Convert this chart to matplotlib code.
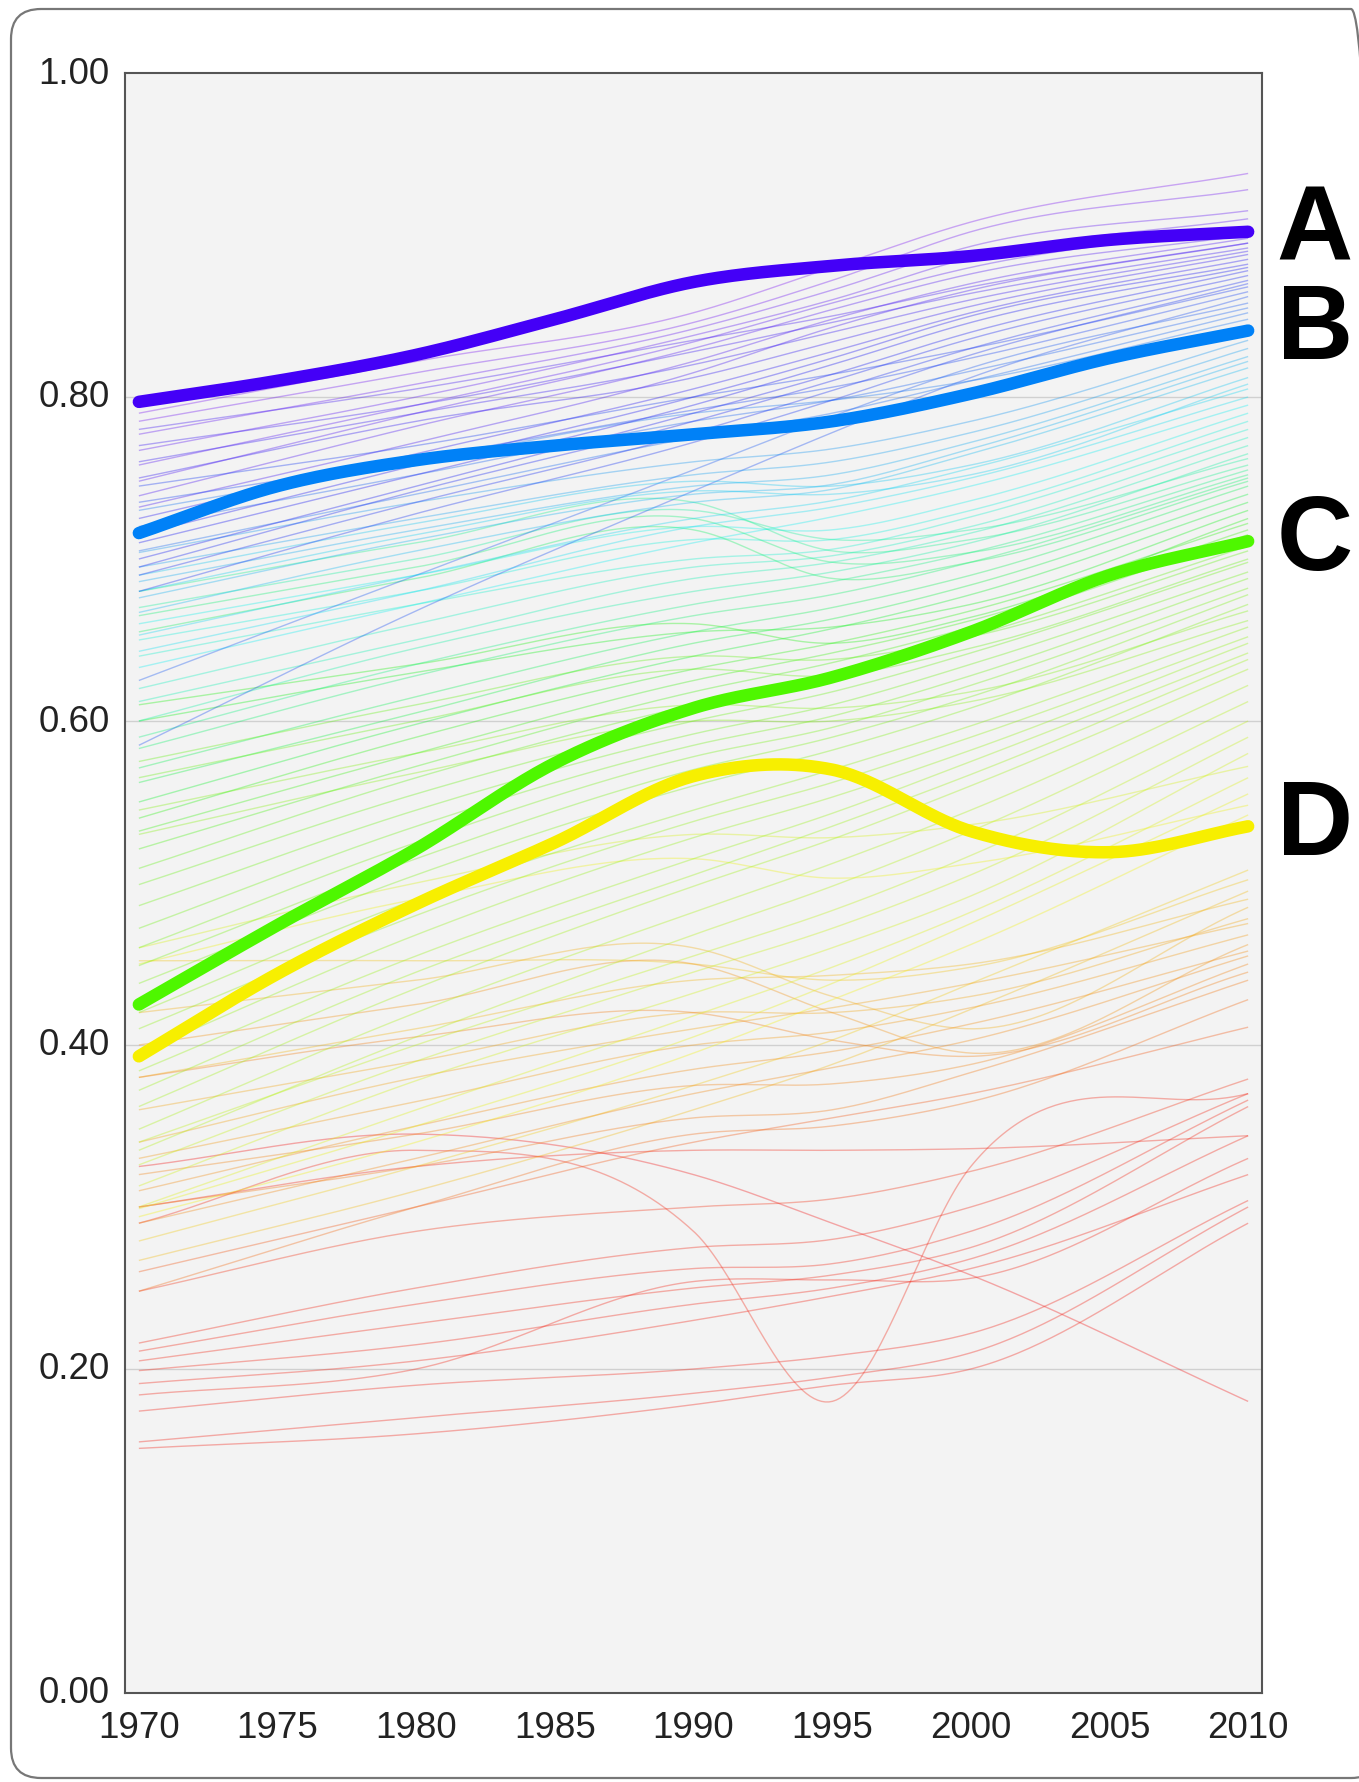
import matplotlib
matplotlib.use("Agg")
import matplotlib.pyplot as plt
import matplotlib.transforms as mtransforms
from matplotlib.patches import FancyBboxPatch
from matplotlib.colors import hsv_to_rgb
import numpy as np

plt.rcParams['font.family'] = ['Liberation Sans', 'DejaVu Sans']

# highlighted series (every 5 years)
years_hl = [1970, 1975, 1980, 1985, 1990, 1995, 2000, 2005, 2010]
series_a = [0.797, 0.810, 0.826, 0.848, 0.871, 0.881, 0.887, 0.897, 0.902]
series_b = [0.716, 0.745, 0.761, 0.770, 0.777, 0.785, 0.802, 0.824, 0.841]
series_c = [0.425, 0.474, 0.521, 0.574, 0.608, 0.627, 0.655, 0.690, 0.711]
series_d = [0.393, 0.444, 0.487, 0.525, 0.566, 0.570, 0.532, 0.519, 0.535]
hl_labels = ["A", "B", "C", "D"]

# background series
years_thin = [1970, 1980, 1990, 1995, 2000, 2010]

violet_lines = [
    [0.790, 0.822, 0.852, 0.880, 0.908, 0.938],
    [0.785, 0.815, 0.846, 0.872, 0.902, 0.928],
    [0.777, 0.808, 0.842, 0.866, 0.893, 0.915],
    [0.767, 0.800, 0.838, 0.860, 0.886, 0.910],
    [0.758, 0.795, 0.834, 0.858, 0.880, 0.905],
    [0.748, 0.790, 0.830, 0.854, 0.876, 0.900],
    [0.739, 0.782, 0.822, 0.848, 0.870, 0.898],
    [0.732, 0.772, 0.815, 0.843, 0.866, 0.895],
    [0.780, 0.805, 0.835, 0.850, 0.868, 0.895],
    [0.770, 0.795, 0.828, 0.846, 0.864, 0.892],
    [0.760, 0.790, 0.820, 0.840, 0.860, 0.890],
    [0.750, 0.785, 0.812, 0.834, 0.856, 0.888],
    [0.725, 0.765, 0.805, 0.828, 0.852, 0.885],
    [0.715, 0.758, 0.800, 0.824, 0.850, 0.882],
    [0.710, 0.752, 0.795, 0.820, 0.846, 0.880],
    [0.700, 0.745, 0.790, 0.814, 0.840, 0.878],
    [0.695, 0.742, 0.785, 0.810, 0.836, 0.875],
    [0.690, 0.735, 0.778, 0.804, 0.830, 0.872],
    [0.680, 0.728, 0.772, 0.798, 0.826, 0.870],
    [0.745, 0.770, 0.800, 0.814, 0.830, 0.868],
    [0.735, 0.762, 0.792, 0.806, 0.824, 0.865],
]

blue_lines = [
    [0.585, 0.668, 0.742, 0.778, 0.812, 0.862],
    [0.625, 0.690, 0.755, 0.788, 0.818, 0.858],
    [0.720, 0.752, 0.785, 0.798, 0.816, 0.855],
    [0.705, 0.740, 0.775, 0.790, 0.810, 0.852],
    [0.730, 0.760, 0.790, 0.798, 0.810, 0.848],
    [0.704, 0.735, 0.760, 0.768, 0.785, 0.835],
    [0.695, 0.725, 0.752, 0.760, 0.778, 0.830],
    [0.686, 0.718, 0.745, 0.752, 0.772, 0.825],
    [0.676, 0.712, 0.740, 0.746, 0.768, 0.822],
    [0.667, 0.705, 0.735, 0.743, 0.765, 0.818],
    [0.690, 0.722, 0.748, 0.745, 0.758, 0.812],
    [0.680, 0.715, 0.742, 0.740, 0.752, 0.808],
    [0.653, 0.690, 0.725, 0.736, 0.756, 0.805],
    [0.643, 0.680, 0.720, 0.732, 0.750, 0.800],
]

teal_lines = [
    [0.633, 0.672, 0.710, 0.726, 0.745, 0.795],
    [0.660, 0.690, 0.720, 0.718, 0.736, 0.790],
    [0.650, 0.680, 0.712, 0.712, 0.730, 0.785],
    [0.640, 0.672, 0.700, 0.706, 0.726, 0.780],
    [0.620, 0.660, 0.695, 0.702, 0.720, 0.775],
    [0.612, 0.650, 0.688, 0.698, 0.716, 0.770],
    [0.600, 0.645, 0.680, 0.692, 0.710, 0.765],
    [0.670, 0.700, 0.730, 0.712, 0.718, 0.762],
    [0.680, 0.710, 0.735, 0.705, 0.712, 0.758],
    [0.665, 0.695, 0.725, 0.698, 0.704, 0.752],
    [0.655, 0.688, 0.718, 0.688, 0.698, 0.748],
    [0.590, 0.635, 0.672, 0.686, 0.704, 0.755],
    [0.583, 0.628, 0.665, 0.678, 0.698, 0.750],
]

green_lines = [
    [0.571, 0.615, 0.655, 0.670, 0.690, 0.745],
    [0.562, 0.605, 0.648, 0.663, 0.684, 0.740],
    [0.550, 0.598, 0.640, 0.657, 0.678, 0.735],
    [0.600, 0.630, 0.655, 0.658, 0.672, 0.730],
    [0.610, 0.635, 0.660, 0.648, 0.664, 0.725],
    [0.540, 0.590, 0.632, 0.648, 0.668, 0.722],
    [0.532, 0.580, 0.625, 0.642, 0.662, 0.718],
    [0.521, 0.572, 0.618, 0.636, 0.658, 0.715],
    [0.509, 0.565, 0.610, 0.628, 0.652, 0.708],
    [0.575, 0.610, 0.640, 0.638, 0.652, 0.705],
    [0.565, 0.600, 0.632, 0.628, 0.645, 0.700],
]

lime_lines = [
    [0.499, 0.555, 0.600, 0.618, 0.642, 0.698],
    [0.486, 0.545, 0.592, 0.610, 0.635, 0.692],
    [0.472, 0.535, 0.585, 0.603, 0.628, 0.688],
    [0.460, 0.525, 0.578, 0.596, 0.622, 0.682],
    [0.449, 0.515, 0.570, 0.590, 0.615, 0.678],
    [0.438, 0.505, 0.560, 0.582, 0.608, 0.672],
    [0.545, 0.580, 0.610, 0.608, 0.618, 0.668],
    [0.530, 0.568, 0.600, 0.600, 0.612, 0.662],
    [0.420, 0.490, 0.545, 0.570, 0.597, 0.658],
    [0.410, 0.480, 0.538, 0.562, 0.590, 0.652],
    [0.395, 0.468, 0.528, 0.553, 0.582, 0.648],
    [0.384, 0.455, 0.515, 0.543, 0.575, 0.642],
    [0.372, 0.445, 0.505, 0.535, 0.567, 0.638],
    [0.362, 0.435, 0.498, 0.527, 0.560, 0.632],
]

yellow_lines = [
    [0.348, 0.420, 0.482, 0.512, 0.545, 0.622],
    [0.335, 0.405, 0.468, 0.498, 0.532, 0.612],
    [0.340, 0.400, 0.455, 0.483, 0.517, 0.600],
    [0.326, 0.390, 0.445, 0.472, 0.505, 0.590],
    [0.313, 0.378, 0.432, 0.460, 0.492, 0.580],
    [0.460, 0.500, 0.530, 0.528, 0.536, 0.572],
    [0.300, 0.360, 0.418, 0.448, 0.482, 0.565],
    [0.299, 0.350, 0.405, 0.438, 0.475, 0.555],
    [0.450, 0.490, 0.515, 0.503, 0.512, 0.548],
    [0.294, 0.340, 0.395, 0.428, 0.462, 0.542],
]

orange_lines = [
    [0.279, 0.325, 0.375, 0.403, 0.438, 0.508],
    [0.452, 0.452, 0.450, 0.440, 0.448, 0.502],
    [0.267, 0.310, 0.360, 0.388, 0.422, 0.495],
    [0.380, 0.410, 0.440, 0.443, 0.450, 0.490],
    [0.420, 0.440, 0.460, 0.430, 0.410, 0.485],
    [0.360, 0.390, 0.420, 0.420, 0.430, 0.478],
    [0.340, 0.380, 0.410, 0.423, 0.438, 0.475],
    [0.330, 0.365, 0.400, 0.408, 0.423, 0.468],
    [0.400, 0.425, 0.450, 0.420, 0.395, 0.462],
    [0.310, 0.350, 0.385, 0.396, 0.413, 0.458],
    [0.290, 0.330, 0.370, 0.386, 0.403, 0.455],
    [0.320, 0.345, 0.375, 0.376, 0.388, 0.450],
    [0.380, 0.405, 0.420, 0.403, 0.393, 0.445],
    [0.300, 0.325, 0.355, 0.360, 0.383, 0.440],
    [0.248, 0.300, 0.345, 0.350, 0.365, 0.428],
]

red_lines = [
    [0.325, 0.345, 0.320, 0.290, 0.258, 0.180],
    [0.290, 0.335, 0.285, 0.180, 0.325, 0.370],
    [0.248, 0.285, 0.300, 0.305, 0.322, 0.379],
    [0.216, 0.250, 0.275, 0.280, 0.300, 0.370],
    [0.211, 0.240, 0.262, 0.265, 0.285, 0.366],
    [0.205, 0.228, 0.250, 0.258, 0.275, 0.362],
    [0.199, 0.215, 0.240, 0.250, 0.268, 0.344],
    [0.191, 0.205, 0.230, 0.245, 0.262, 0.320],
    [0.184, 0.200, 0.254, 0.255, 0.256, 0.330],
    [0.174, 0.190, 0.200, 0.208, 0.222, 0.304],
    [0.155, 0.170, 0.185, 0.195, 0.210, 0.300],
    [0.151, 0.160, 0.178, 0.190, 0.200, 0.290],
    [0.300, 0.325, 0.335, 0.335, 0.336, 0.344],
    [0.260, 0.300, 0.340, 0.355, 0.370, 0.411],
]


def smooth(xs, ys, n=300):
    # cubic Hermite curve through the points, for drawing only
    xs = np.asarray(xs, float)
    ys = np.asarray(ys, float)
    m = np.gradient(ys, xs)
    xx = np.linspace(xs[0], xs[-1], n)
    i = np.clip(np.searchsorted(xs, xx, side='right') - 1, 0, len(xs) - 2)
    h = xs[i + 1] - xs[i]
    t = (xx - xs[i]) / h
    h00 = 2 * t**3 - 3 * t**2 + 1
    h10 = t**3 - 2 * t**2 + t
    h01 = -2 * t**3 + 3 * t**2
    h11 = t**3 - t**2
    yy = h00 * ys[i] + h10 * h * m[i] + h01 * ys[i + 1] + h11 * h * m[i + 1]
    return xx, yy


# colour scale: last value -> hue
hue_stops_v = [0.18, 0.37, 0.45, 0.535, 0.60, 0.71, 0.76, 0.80, 0.84, 0.90, 0.94]
hue_stops_h = [0, 5, 30, 58, 75, 100, 155, 185, 208, 256, 268]


def colour_for(v, s=0.9, b=0.95):
    h = np.interp(v, hue_stops_v, hue_stops_h) / 360.0
    return hsv_to_rgb([h, s, b])


fig = plt.figure(figsize=(13.59, 17.83), dpi=100)

# rounded frame around the whole chart
frame = FancyBboxPatch((11, 4), 1370, 1769, boxstyle="round,pad=0,rounding_size=30",
                       transform=None, facecolor='none', edgecolor='#777777',
                       linewidth=1.6, zorder=0)
fig.patches.append(frame)

ax = fig.add_axes([125 / 1359, 1 - 1694 / 1783, (1262 - 125) / 1359, (1694 - 74) / 1783])
ax.set_facecolor('#f3f3f3')
ax.set_xlim(1969.5, 2010.5)
ax.set_ylim(0, 1)

for y in [0.2, 0.4, 0.6, 0.8]:
    ax.axhline(y, color='#d0d0d0', lw=1.0, zorder=1)

all_thin = (red_lines + orange_lines + yellow_lines + lime_lines + green_lines
            + teal_lines + blue_lines + violet_lines)
for vals in all_thin:
    xx, yy = smooth(years_thin, vals)
    ax.plot(xx, yy, color=colour_for(vals[-1]), alpha=0.36, lw=1.0,
            solid_capstyle='butt', zorder=2)

for vals in [series_d, series_c, series_b, series_a]:
    xx, yy = smooth(years_hl, vals)
    ax.plot(xx, yy, color=colour_for(vals[-1], s=1.0, b=0.97), lw=9,
            solid_capstyle='round', zorder=5)

# letters at the right of the highlighted lines
trans = mtransforms.blended_transform_factory(ax.transAxes, ax.transData)
for lab, vals in zip(hl_labels, [series_a, series_b, series_c, series_d]):
    ax.text(1.013, vals[-1], lab, transform=trans, fontsize=76, fontweight='bold',
            color='black', ha='left', va='center', clip_on=False)

ax.set_xticks(range(1970, 2011, 5))
ax.set_yticks([0, 0.2, 0.4, 0.6, 0.8, 1.0])
ax.set_yticklabels(['%.2f' % v for v in [0, 0.2, 0.4, 0.6, 0.8, 1.0]])
ax.tick_params(axis='both', length=0, labelsize=26.5, labelcolor='#222222')
ax.tick_params(axis='x', pad=12)
ax.tick_params(axis='y', pad=11)
for lab in ax.get_yticklabels():
    lab.set_verticalalignment('center')

for sp in ax.spines.values():
    sp.set_color('#555555')
    sp.set_linewidth(1.5)

fig.savefig('out.png', dpi=100)
